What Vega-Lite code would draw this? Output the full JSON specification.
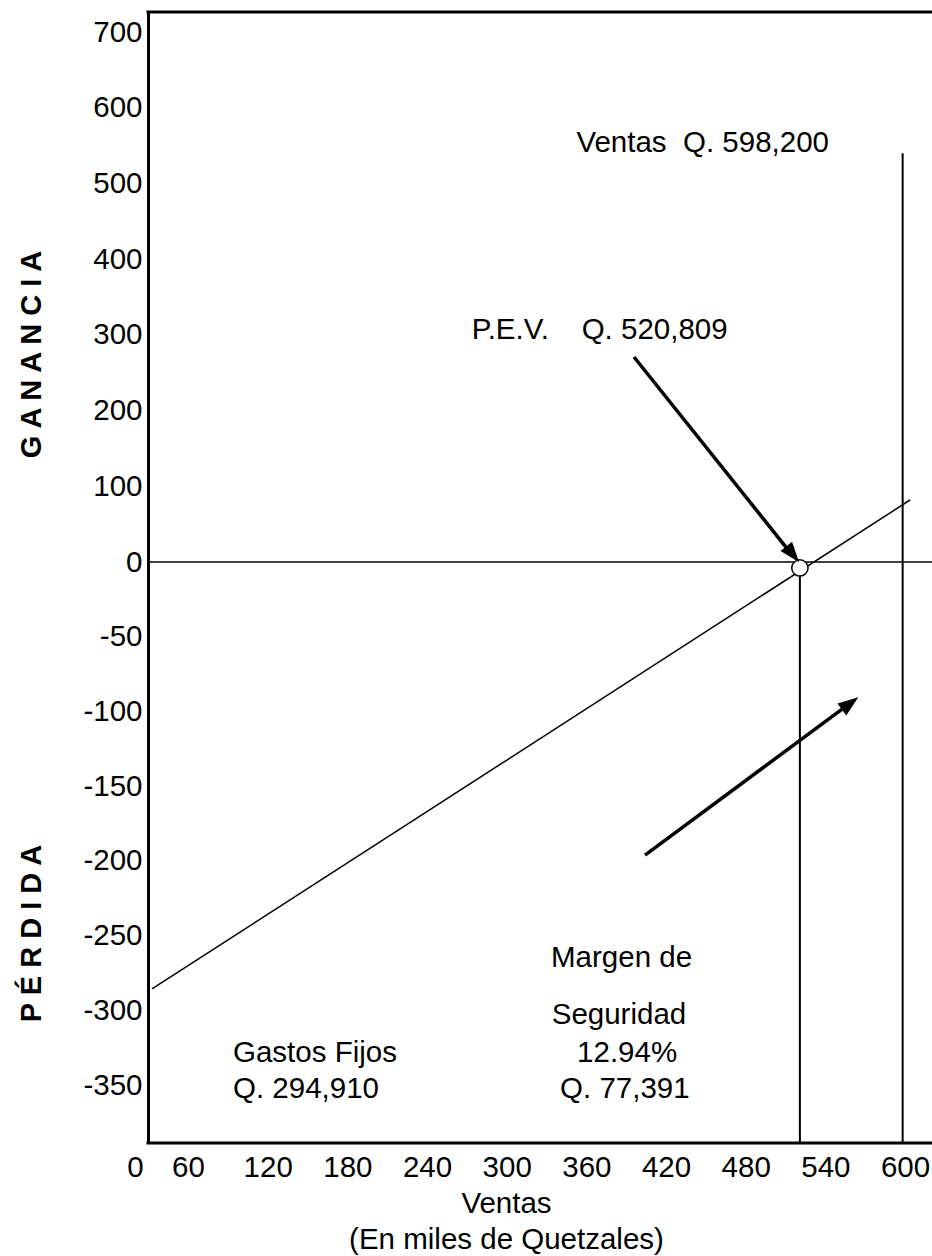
{
  "$schema": "https://vega.github.io/schema/vega-lite/v6.json",
  "autosize": "none",
  "padding": {"left": 148, "top": 12, "right": 0, "bottom": 113},
  "width": 784,
  "height": 1131,
  "background": "white",
  "config": {
    "view": {"stroke": null},
    "font": "Liberation Sans",
    "axis": {
      "grid": false,
      "ticks": false,
      "tickSize": 0,
      "labelFont": "Liberation Sans",
      "labelFontSize": 29.5,
      "labelColor": "black",
      "titleFont": "Liberation Sans",
      "titleColor": "black",
      "labelFlush": false,
      "labelOverlap": false,
      "labelBound": false
    },
    "text": {"font": "Liberation Sans", "fontSize": 29.5, "color": "black", "align": "left", "baseline": "alphabetic"}
  },
  "layer": [
    {
      "data": {"values": [{"resultado": 726.5}, {"resultado": -388.8}]},
      "mark": {"type": "rule", "strokeWidth": 3, "color": "black", "strokeCap": "square"},
      "encoding": {
        "y": {
          "field": "resultado", "type": "quantitative",
          "scale": {"type": "linear", "domain": [-388.8, 0, 726.5], "range": [1131, 550, 0], "nice": false, "zero": false},
          "axis": {
            "title": "P É R D I D A\u00a0\u00a0\u00a0\u00a0\u00a0\u00a0\u00a0\u00a0\u00a0\u00a0\u00a0\u00a0\u00a0\u00a0\u00a0\u00a0\u00a0\u00a0\u00a0\u00a0\u00a0\u00a0\u00a0\u00a0\u00a0\u00a0\u00a0\u00a0\u00a0\u00a0\u00a0\u00a0\u00a0\u00a0\u00a0\u00a0\u00a0\u00a0\u00a0\u00a0\u00a0\u00a0\u00a0\u00a0\u00a0\u00a0\u00a0\u00a0G A N A N C I A",
            "values": [-350, -300, -250, -200, -150, -100, -50, 0, 100, 200, 300, 400, 500, 600, 700],
            "labelExpr": "'' + datum.value",
            "domain": true,
            "domainColor": "black",
            "domainWidth": 3,
            "labelPadding": 6,
            "labelAlign": "right",
            "labelBaseline": "middle",
            "titleFontSize": 29,
            "titleFontWeight": "bold",
            "titleAngle": 270,
            "titleX": -108,
            "titleY": 624,
            "titleAlign": "center",
            "titleBaseline": "alphabetic"
          }
        }
      }
    },
    {
      "data": {"values": [{"resultado": 0}]},
      "mark": {"type": "rule", "strokeWidth": 1.7, "color": "black"},
      "encoding": {
        "y": {"field": "resultado", "type": "quantitative", "scale": {"type": "linear", "domain": [-388.8, 0, 726.5], "range": [1131, 550, 0], "nice": false, "zero": false}}
      }
    },
    {
      "data": {"values": [
        {"serie": "P.E.V.", "ventas": 520.809, "resultado": 0, "resultado2": -388.8},
        {"serie": "Ventas", "ventas": 598.2, "resultado": 540, "resultado2": -388.8}
      ]},
      "mark": {"type": "rule", "strokeWidth": 2, "color": "black"},
      "encoding": {
        "x": {
          "field": "ventas", "type": "quantitative",
          "scale": {"type": "linear", "domain": [0, 60, 620.3], "range": [-13, 40, 784], "nice": false, "zero": false},
          "axis": {
            "title": ["Ventas", "(En miles de Quetzales)"],
            "values": [0, 60, 120, 180, 240, 300, 360, 420, 480, 540, 600],
            "labelExpr": "'' + datum.value",
            "domain": false,
            "labelPadding": 10,
            "labelAlign": "center",
            "labelBaseline": "top",
            "titleFontSize": 29.5,
            "titleFontWeight": "normal",
            "titleLineHeight": 36,
            "titleX": 358,
            "titleY": 69,
            "titleAlign": "center",
            "titleBaseline": "alphabetic"
          }
        },
        "y": {"field": "resultado", "type": "quantitative", "scale": {"type": "linear", "domain": [-388.8, 0, 726.5], "range": [1131, 550, 0], "nice": false, "zero": false}},
        "y2": {"field": "resultado2"}
      }
    },
    {
      "data": {"values": [
        {"ventas": 19.2, "resultado": -285.7},
        {"ventas": 603.8, "resultado": 81.9}
      ]},
      "mark": {"type": "line", "strokeWidth": 1.5, "color": "black"},
      "encoding": {
        "x": {"field": "ventas", "type": "quantitative", "scale": {"type": "linear", "domain": [0, 60, 620.3], "range": [-13, 40, 784], "nice": false, "zero": false}},
        "y": {"field": "resultado", "type": "quantitative", "scale": {"type": "linear", "domain": [-388.8, 0, 726.5], "range": [1131, 550, 0], "nice": false, "zero": false}}
      }
    },
    {
      "data": {"values": [{"ventas": 520.809, "resultado": -4}]},
      "mark": {"type": "point", "shape": "circle", "filled": true, "fill": "white", "stroke": "black", "strokeWidth": 1.5, "size": 265, "opacity": 1},
      "encoding": {
        "x": {"field": "ventas", "type": "quantitative", "scale": {"type": "linear", "domain": [0, 60, 620.3], "range": [-13, 40, 784], "nice": false, "zero": false}},
        "y": {"field": "resultado", "type": "quantitative", "scale": {"type": "linear", "domain": [-388.8, 0, 726.5], "range": [1131, 550, 0], "nice": false, "zero": false}}
      }
    },
    {
      "data": {"values": [
        {"flecha": "P.E.V.", "ventas": 395.9, "resultado": 270.8, "ventas2": 514.5, "resultado2": 10.5},
        {"flecha": "Margen", "ventas": 404.2, "resultado": -196.1, "ventas2": 558.2, "resultado2": -94.8}
      ]},
      "mark": {"type": "rule", "strokeWidth": 3.5, "color": "black"},
      "encoding": {
        "x": {"field": "ventas", "type": "quantitative", "scale": {"type": "linear", "domain": [0, 60, 620.3], "range": [-13, 40, 784], "nice": false, "zero": false}},
        "y": {"field": "resultado", "type": "quantitative", "scale": {"type": "linear", "domain": [-388.8, 0, 726.5], "range": [1131, 550, 0], "nice": false, "zero": false}},
        "x2": {"field": "ventas2"},
        "y2": {"field": "resultado2"}
      }
    },
    {
      "data": {"values": [{"flecha": "P.E.V.", "ventas": 515.4, "resultado": 10.1}]},
      "mark": {"type": "point", "shape": "M0,-1L-0.72,1L0.72,1Z", "filled": true, "color": "black", "size": 420, "opacity": 1, "angle": 141.2},
      "encoding": {
        "x": {"field": "ventas", "type": "quantitative", "scale": {"type": "linear", "domain": [0, 60, 620.3], "range": [-13, 40, 784], "nice": false, "zero": false}},
        "y": {"field": "resultado", "type": "quantitative", "scale": {"type": "linear", "domain": [-388.8, 0, 726.5], "range": [1131, 550, 0], "nice": false, "zero": false}}
      }
    },
    {
      "data": {"values": [{"flecha": "Margen", "ventas": 558.6, "resultado": -94.6}]},
      "mark": {"type": "point", "shape": "M0,-1L-0.72,1L0.72,1Z", "filled": true, "color": "black", "size": 420, "opacity": 1, "angle": 53.4},
      "encoding": {
        "x": {"field": "ventas", "type": "quantitative", "scale": {"type": "linear", "domain": [0, 60, 620.3], "range": [-13, 40, 784], "nice": false, "zero": false}},
        "y": {"field": "resultado", "type": "quantitative", "scale": {"type": "linear", "domain": [-388.8, 0, 726.5], "range": [1131, 550, 0], "nice": false, "zero": false}}
      }
    },
    {
      "data": {"values": [
        {"texto": "Ventas\u00a0\u00a0Q. 598,200", "ventas": 352.5, "resultado": 541.6},
        {"texto": "P.E.V.\u00a0\u00a0\u00a0\u00a0Q. 520,809", "ventas": 273.7, "resultado": 294.6},
        {"texto": "Margen de", "ventas": 333.4, "resultado": -271.0},
        {"texto": "Seguridad", "ventas": 333.9, "resultado": -309.2},
        {"texto": "12.94%", "ventas": 353, "resultado": -334.6},
        {"texto": "Q. 77,391", "ventas": 340.2, "resultado": -358.7},
        {"texto": "Gastos Fijos", "ventas": 93.9, "resultado": -334.6},
        {"texto": "Q. 294,910", "ventas": 93.9, "resultado": -358.7}
      ]},
      "mark": {"type": "text", "align": "left", "baseline": "alphabetic", "fontSize": 29.5, "color": "black"},
      "encoding": {
        "x": {"field": "ventas", "type": "quantitative", "scale": {"type": "linear", "domain": [0, 60, 620.3], "range": [-13, 40, 784], "nice": false, "zero": false}},
        "y": {"field": "resultado", "type": "quantitative", "scale": {"type": "linear", "domain": [-388.8, 0, 726.5], "range": [1131, 550, 0], "nice": false, "zero": false}},
        "text": {"field": "texto"}
      }
    }
  ]
}
